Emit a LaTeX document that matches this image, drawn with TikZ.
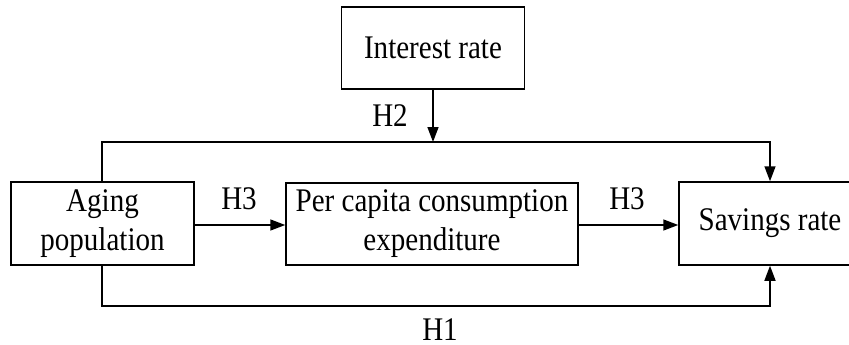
\documentclass[tikz,border=0pt]{standalone}
\usepackage{fontspec}
\setmainfont{Liberation Serif}[FakeStretch=0.88]
\usetikzlibrary{arrows.meta}
\begin{document}
\begin{tikzpicture}[x=1pt,y=-1pt,
  box/.style={draw,line width=1.5pt,inner sep=0pt,align=center,
    font=\fontsize{33}{39}\selectfont},
  lbl/.style={inner sep=0pt,font=\fontsize{33}{39}\selectfont},
  conn/.style={line width=1.5pt},
  arr/.style={conn,-{Triangle[length=15pt,width=11pt]}}]
\useasboundingbox (0,0) rectangle (849,345);
\clip (0,0) rectangle (849,345);
\node[box,minimum width=183pt,minimum height=82pt] (interest) at (433,48) {Interest rate};
\node[box,minimum width=183pt,minimum height=83pt] (aging) at (102.5,223.5) {Aging\\population};
\node[box,minimum width=292pt,minimum height=82pt] (pc) at (432,224) {Per capita consumption\\expenditure};
\node[box,minimum width=182pt,minimum height=83pt] (sav) at (770,223.5) {Savings rate};
\coordinate (j) at (433,142);
\coordinate (tl) at (102,142);
\coordinate (tr) at (770,142);
\coordinate (bl) at (102,306);
\coordinate (br) at (770,306);
\draw[arr] (interest.south) -- (j);
\draw[arr] (aging.north -| tl) -- (tl) -- (tr) -- (sav.north -| tr);
\draw[arr] (aging.south -| bl) -- (bl) -- (br) -- (sav.south -| br);
\draw[arr] (aging.east |- 0,225) -- (pc.west |- 0,225);
\draw[arr] (pc.east |- 0,225) -- (sav.west |- 0,225);
\node[lbl] (h2) at (390,116) {H2};
\node[lbl] (h3a) at (239,199) {H3};
\node[lbl] (h3b) at (627,199) {H3};
\node[lbl] (h1) at (440,329.5) {H1};
\end{tikzpicture}
\end{document}
